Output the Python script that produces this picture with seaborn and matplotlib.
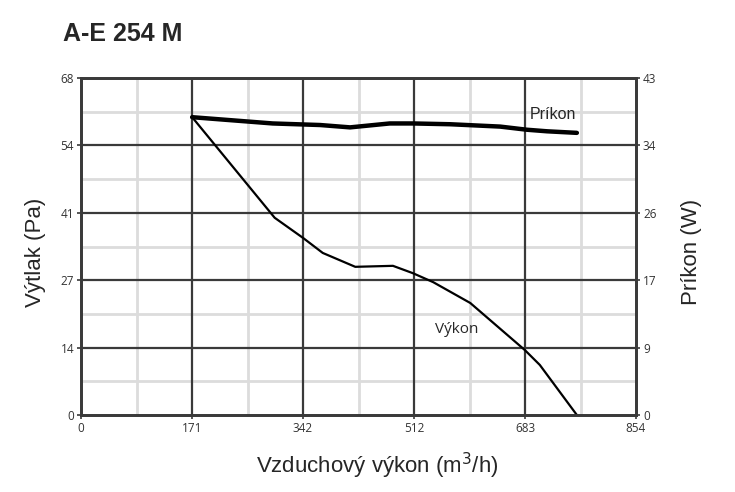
import numpy as np
import pandas as pd
import matplotlib
matplotlib.use('Agg')
import matplotlib.pyplot as plt
import seaborn as sns

sns.set_style("white")
plt.rcParams['font.family'] = ['Liberation Sans', 'DejaVu Sans']

# Data (airflow m3/h)
vykon_flow = [171, 298, 342, 372, 422, 480, 511, 542, 599, 683, 706, 763]
vykon_pa = [60.1, 39.8, 35.7, 32.7, 29.9, 30.1, 28.6, 26.8, 22.6, 13.1, 10.1, 0.0]

prikon_flow = [171, 295, 368, 414, 475, 511, 568, 645, 686, 717, 763]
prikon_w = [38.0, 37.2, 37.0, 36.7, 37.2, 37.2, 37.1, 36.8, 36.4, 36.2, 36.0]

x_labels = ['0', '171', '342', '512', '683', '854']
left_labels = ['0', '14', '27', '41', '54', '68']
right_labels = ['0', '9', '17', '26', '34', '43']

X_MAX, L_MAX, R_MAX = 854, 68, 43

df_v = pd.DataFrame({'flow': vykon_flow, 'pa': vykon_pa})
df_p = pd.DataFrame({'flow': prikon_flow, 'w': prikon_w})

fig = plt.figure(figsize=(7.35, 4.92), dpi=100)
ax = fig.add_axes([81 / 735, 1 - 415 / 492, 555 / 735, 337 / 492])
ax2 = ax.twinx()

GRID_DARK = '#3a3a3a'
GRID_LIGHT = '#dcdcdc'
TICK_FONT = ['Open Sans', 'DejaVu Sans']

xt = np.linspace(0, X_MAX, 6)
yt = np.linspace(0, L_MAX, 6)
xm = (xt[:-1] + xt[1:]) / 2
ym = (yt[:-1] + yt[1:]) / 2

# minor (light) grid, then major (dark) grid
for v in xm:
    ax.axvline(v, color=GRID_LIGHT, lw=2, zorder=0)
for v in ym:
    ax.axhline(v, color=GRID_LIGHT, lw=2, zorder=0)
for v in xt[1:-1]:
    ax.axvline(v, color=GRID_DARK, lw=1.6, zorder=1)
for v in yt[1:-1]:
    ax.axhline(v, color=GRID_DARK, lw=1.6, zorder=1)

sns.lineplot(data=df_v, x='flow', y='pa', ax=ax, color='black', lw=1.6,
             zorder=5, sort=False)
sns.lineplot(data=df_p, x='flow', y='w', ax=ax2, color='black', lw=3.2,
             zorder=5, sort=False)

ax.set_xlim(0, X_MAX)
ax.set_ylim(0, L_MAX)
ax2.set_ylim(0, R_MAX)

ax.set_xticks(xt)
ax.set_xticklabels(x_labels, family=TICK_FONT, fontsize=8.5, color='#333333')
ax.set_yticks(yt)
ax.set_yticklabels(left_labels, family=TICK_FONT, fontsize=8.5, color='#333333')
ax2.set_yticks(np.linspace(0, R_MAX, 6))
ax2.set_yticklabels(right_labels, family=TICK_FONT, fontsize=8.5, color='#333333')

for a in (ax, ax2):
    a.tick_params(length=3, width=1.2, color=GRID_DARK, pad=2)
    for s in a.spines.values():
        s.set_color(GRID_DARK)
        s.set_linewidth(2)
ax2.tick_params(axis='y', left=False, right=True)
ax.tick_params(axis='y', left=True)
ax.tick_params(axis='x', bottom=True)

ax.set_xlabel('')
ax.set_ylabel('')
ax2.set_ylabel('')

fig.text(377 / 735, 1 - 466 / 492, 'Vzduchový výkon (m$^3$/h)', fontsize=16,
         ha='center', va='center')
fig.text(36 / 735, 1 - 252 / 492, 'Výtlak (Pa)', fontsize=16, rotation=90,
         ha='center', va='center')
fig.text(691 / 735, 1 - 252 / 492, 'Príkon (W)', fontsize=16, rotation=90,
         ha='center', va='center')
fig.text(63 / 735, 1 - 34 / 492, 'A-E 254 M', fontsize=18, fontweight='bold',
         ha='left', va='center')

ax2.text(691, 37.4, 'Príkon', fontsize=11.5, ha='left', va='bottom', zorder=6)
ax.text(545, 17.2, 'Výkon', family=TICK_FONT, fontsize=11, ha='left',
        va='center', zorder=6)

fig.savefig('out.png', dpi=100)
